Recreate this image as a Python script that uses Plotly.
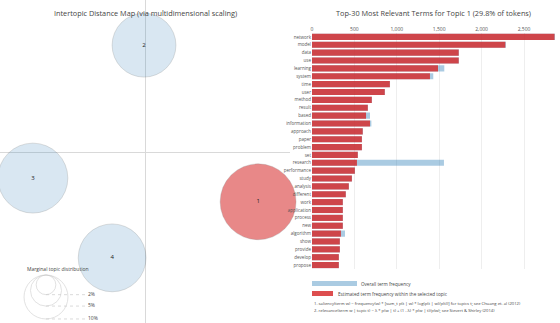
import numpy as np
import plotly.graph_objects as go

# ---------------- data ----------------
topic_ids = [1, 2, 3, 4]
topic_pc1 = [0.234, -0.002, -0.232, -0.068]
topic_pc2 = [-0.103, 0.221, -0.054, -0.219]
topic_share = [29.8, 21.1, 25.3, 23.8]   # % of tokens
selected_topic = 1

legend_shares = [2, 5, 10]
legend_labels = ["2%", "5%", "10%"]

terms = ["network", "model", "data", "use", "learning", "system", "time", "user",
         "method", "result", "based", "information", "approach", "paper", "problem",
         "set", "research", "performance", "study", "analysis", "different", "work",
         "application", "process", "new", "algorithm", "show", "provide", "develop",
         "propose"]
overall_freq = [2865, 2287, 1733, 1733, 1560, 1430, 920, 860, 707, 660, 684, 700,
                601, 590, 590, 542, 1556, 507, 472, 436, 400, 365, 365, 365, 365,
                389, 330, 330, 318, 318]
topic_freq = [2860, 2280, 1730, 1730, 1486, 1391, 918, 858, 705, 658, 637, 684,
              598, 588, 588, 540, 530, 505, 470, 434, 398, 363, 363, 363, 363,
              341, 328, 328, 316, 316]
x_ticks = [0, 500, 1000, 1500, 2000, 2500]

# ---------------- figure ----------------
W, H = 560, 323
FONT = "Open Sans"
BLUE_FILL = "rgba(31,119,180,0.24)"
RED_FILL = "rgba(214,39,40,0.78)"
DIAM_K = 13.9  # px diameter per sqrt(%)

fig = go.Figure()

def py(px):
    return 1 - px / H

# intertopic map
colors = [RED_FILL if t == selected_topic else BLUE_FILL for t in topic_ids]
fig.add_trace(go.Scatter(
    x=topic_pc1, y=topic_pc2, mode="markers+text",
    text=[str(t) for t in topic_ids], textposition="middle center",
    textfont=dict(size=6, color="#222", family=FONT),
    marker=dict(size=[DIAM_K * np.sqrt(s) for s in topic_share], sizemode="diameter",
                color=colors, line=dict(color="rgba(90,90,90,0.35)", width=0.8)),
    cliponaxis=False, showlegend=False, hoverinfo="skip",
    xaxis="x", yaxis="y"))

# marginal topic distribution legend (pixel-unit axis)
radii = [DIAM_K * np.sqrt(s) / 2 for s in legend_shares]
cx, top = 46, 12
for r, lab in zip(radii, legend_labels):
    fig.add_trace(go.Scatter(
        x=[cx, 86], y=[top + 2 * r, top + 2 * r], mode="lines",
        line=dict(color="#ccc", width=0.7, dash="dot"),
        showlegend=False, hoverinfo="skip", xaxis="x3", yaxis="y3"))
fig.add_trace(go.Scatter(
    x=[cx] * len(radii), y=[top + r for r in radii], mode="markers",
    marker=dict(size=[2 * r for r in radii], sizemode="diameter",
                color="rgba(255,255,255,0)", line=dict(color="#ccc", width=0.8)),
    cliponaxis=False, showlegend=False, hoverinfo="skip", xaxis="x3", yaxis="y3"))
fig.add_trace(go.Scatter(
    x=[88] * len(radii), y=[top + 2 * r for r in radii], mode="text",
    text=legend_labels, textposition="middle right",
    textfont=dict(size=5, color="#444", family=FONT),
    cliponaxis=False, showlegend=False, hoverinfo="skip", xaxis="x3", yaxis="y3"))

# bars
fig.add_trace(go.Bar(
    y=terms, x=overall_freq, orientation="h",
    marker=dict(color="rgba(31,119,180,0.38)", line=dict(width=0)),
    showlegend=False, hoverinfo="skip", xaxis="x2", yaxis="y2"))
fig.add_trace(go.Bar(
    y=terms, x=topic_freq, orientation="h",
    marker=dict(color="rgba(214,39,40,0.82)", line=dict(width=0)),
    showlegend=False, hoverinfo="skip", xaxis="x2", yaxis="y2"))

x_pix_per_unit = 42.4 / 500
bar_left, bar_right = 312, 558

fig.update_layout(
    width=W, height=H, margin=dict(l=0, r=0, t=0, b=0),
    paper_bgcolor="white", plot_bgcolor="rgba(0,0,0,0)",
    font=dict(family=FONT, color="#444"),
    barmode="overlay", bargap=0.22,
    xaxis=dict(domain=[0, 290 / W], range=[-0.3, 0.3], showgrid=False,
               showticklabels=False, zeroline=True, zerolinecolor="#d9d9d9",
               zerolinewidth=1, fixedrange=True),
    yaxis=dict(domain=[0, 1], range=[-(H - 152) * 0.6 / 290, 152 * 0.6 / 290],
               showgrid=False, showticklabels=False, zeroline=True,
               zerolinecolor="#d9d9d9", zerolinewidth=1, fixedrange=True),
    xaxis3=dict(domain=[0, 140 / W], range=[0, 140], visible=False, fixedrange=True),
    yaxis3=dict(domain=[0, 60 / H], range=[60, 0], visible=False, fixedrange=True),
    xaxis2=dict(domain=[bar_left / W, bar_right / W],
                range=[0, (bar_right - bar_left) / x_pix_per_unit],
                side="top", anchor="y2", tickvals=x_ticks, tickformat=",",
                tickfont=dict(size=5, color="#555"), showgrid=True,
                gridcolor="#eeeeee", gridwidth=1, zeroline=False, ticks="",
                fixedrange=True),
    yaxis2=dict(domain=[(H - 269) / H, (H - 33) / H], anchor="x2",
                autorange="reversed", tickfont=dict(size=4.5, color="#555"),
                ticks="", showgrid=False, fixedrange=True),
)

def note(x, y, text, size, anchor="center"):
    fig.add_annotation(x=x / W, y=py(y), xref="paper", yref="paper",
                       xanchor=anchor, yanchor="middle", text=text,
                       showarrow=False, font=dict(size=size, color="#444"))

# titles
note(145, 13, "Intertopic Distance Map (via multidimensional scaling)", 7.3)
note(433, 13, "Top-30 Most Relevant Terms for Topic 1 (29.8% of tokens)", 7.3)
note(25, 269, "Marginal topic distribution", 5, "left")

# bar legend
fig.add_shape(type="rect", xref="paper", yref="paper",
              x0=312 / W, x1=357 / W, y0=py(286), y1=py(281),
              fillcolor="rgba(31,119,180,0.38)", line=dict(width=0))
fig.add_shape(type="rect", xref="paper", yref="paper",
              x0=312 / W, x1=333 / W, y0=py(296), y1=py(291),
              fillcolor="rgba(214,39,40,0.82)", line=dict(width=0))
note(359, 283.5, "Overall term frequency", 4.6, "left")
note(336, 293.5, "Estimated term frequency within the selected topic", 4.6, "left")
note(312, 303, "1. saliency(term w) = frequency(w) * [sum_t p(t | w) * log(p(t | w)/p(t))] for topics t; see Chuang et. al (2012)", 4.2, "left")
note(312, 310, "2. relevance(term w | topic t) = λ * p(w | t) + (1 - λ) * p(w | t)/p(w); see Sievert & Shirley (2014)", 4.2, "left")

fig.write_html("out.html")
